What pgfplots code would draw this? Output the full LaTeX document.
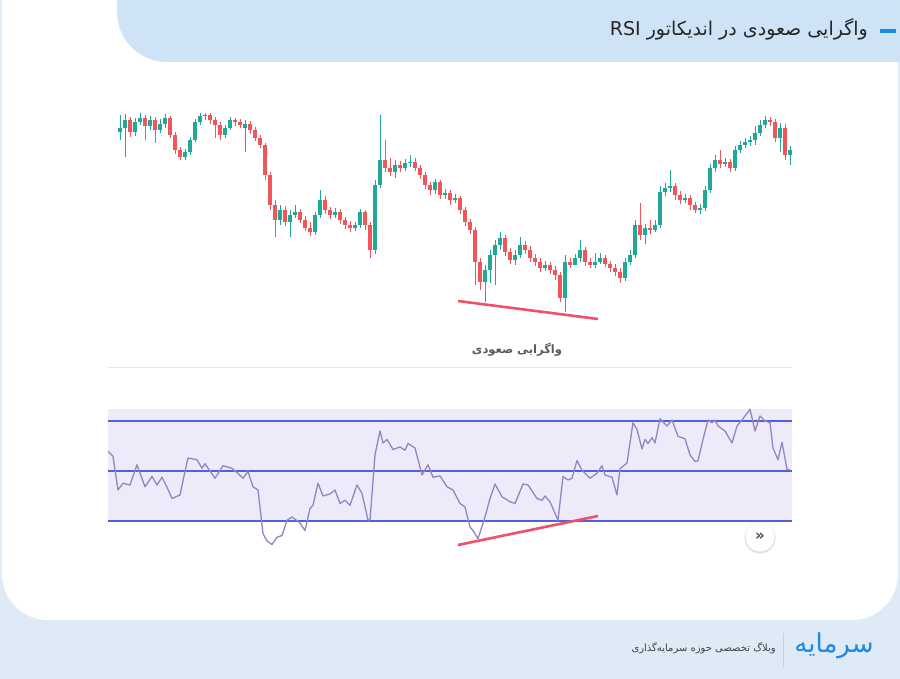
\documentclass[border=0pt]{standalone}
\usepackage{pgfplots}
\pgfplotsset{compat=1.18}
\usepackage{pgfplotstable}
\usepackage{fontspec}
\setmainfont{DejaVu Sans}
\newfontfamily\fa[Script=Arabic]{DejaVu Sans}
\TeXXeTstate=1
\definecolor{bgfoot}{HTML}{DEEBF7}
\definecolor{hdr}{HTML}{CFE3F6}
\definecolor{cgreen}{HTML}{22A896}
\definecolor{cred}{HTML}{F0555A}
\definecolor{band}{HTML}{4F62DD}
\definecolor{lav}{HTML}{EEEAF9}
\definecolor{rsic}{HTML}{8F86C2}
\definecolor{divred}{HTML}{F0506A}
\definecolor{logo}{HTML}{1E88E5}

% candles: x position, open, high, low, close (read in screen units, larger = lower price)
\pgfplotstableread{
x o h l c
120 132 115 140 128
125 128 114 157 120
130 120 117 137 132
135 132 118 136 122
140 122 113 125 118
145 118 115 140 126
150 126 116 130 120
155 120 117 143 130
160 130 119 133 124
165 124 114 128 118
170 118 116 138 135
175 135 132 154 150
180 150 147 160 157
185 157 149 160 152
190 152 137 155 140
195 140 119 142 122
200 122 113 125 116
205 116 113 120 115
210 115 113 124 120
215 120 117 138 125
220 125 122 140 135
225 135 125 138 128
230 128 117 130 120
235 120 118 126 122
240 122 119 128 125
245 128 120 152 124
250 124 121 134 130
255 130 127 141 138
260 138 135 148 145
265 145 143 180 175
270 175 172 210 205
275 205 200 237 220
280 220 205 225 210
285 210 206 226 222
290 222 210 237 215
295 215 205 218 212
300 212 209 223 220
305 220 216 231 228
310 228 222 236 232
315 232 212 235 215
320 215 190 218 200
325 200 196 214 210
330 210 207 219 215
335 215 208 218 212
340 212 209 224 220
345 220 217 229 225
350 225 221 232 228
355 228 222 231 225
360 225 209 228 212
365 212 210 230 225
370 225 222 258 250
375 250 180 254 185
380 185 115 188 160
385 160 140 172 168
390 168 158 176 172
395 172 160 178 165
400 165 161 172 168
405 168 159 171 163
410 163 155 167 162
415 162 158 171 168
420 168 165 179 175
425 175 172 189 185
430 185 182 195 190
435 190 179 194 182
440 182 180 199 195
445 195 189 199 193
450 193 190 205 200
455 200 194 203 198
460 198 196 214 210
465 210 207 226 222
470 222 219 234 230
475 230 227 285 262
480 262 258 290 282
485 282 265 302 270
490 270 250 283 255
495 255 240 285 245
500 245 232 250 238
505 238 235 256 252
510 252 248 264 260
515 260 250 265 255
520 255 237 258 245
525 245 241 254 250
530 250 246 262 258
535 258 254 266 262
540 262 258 272 268
545 268 261 271 265
550 265 262 274 270
555 270 266 280 275
560 275 272 302 298
565 298 255 312 262
570 262 258 268 265
575 265 254 262 258
580 258 240 262 250
585 250 247 266 262
590 262 258 268 265
595 265 253 268 262
600 262 253 264 258
605 258 255 267 264
610 264 261 272 268
615 268 264 276 272
620 272 268 283 278
625 278 258 281 262
630 262 250 265 255
635 255 220 258 225
640 225 203 240 235
645 235 224 244 228
650 228 220 234 230
655 230 220 232 225
660 225 186 228 192
665 192 183 196 188
670 188 170 192 186
675 186 183 200 195
680 195 191 204 200
685 200 194 203 198
690 198 195 210 205
695 205 202 213 210
700 210 204 214 208
705 208 186 211 190
710 190 164 193 168
715 168 155 172 160
720 160 150 168 164
725 164 158 167 162
730 162 159 172 168
735 168 146 171 150
740 150 141 153 145
745 145 138 148 142
750 142 136 146 140
755 140 126 145 133
760 133 120 136 125
765 125 116 128 120
770 120 117 126 122
775 122 119 142 138
780 138 123 152 128
785 128 124 160 155
790 155 146 165 150
}\candles

\pgfplotstableread{
x rsi
108 57.9
113 55.9
118 42.4
123 45.1
130 44.4
137 52.5
145 43.7
152 47.8
157 44.4
162 47.5
167 43.5
172 39.0
180 40.4
184 48.0
188 55.2
197 54.5
202 51.1
205 52.9
210 50.0
215 47.1
223 52.1
232 51.1
238 49.0
243 47.1
248 49.8
253 43.7
258 42.4
263 24.9
267 22.0
272 20.6
277 23.5
282 24.2
287 30.3
292 31.6
300 29.2
305 26.2
310 35.0
313 36.3
318 45.1
323 40.0
330 40.8
335 42.4
340 37.0
345 38.3
350 36.3
357 44.4
362 41.0
368 30.3
370 30.5
375 56.5
380 66.0
383 61.2
387 62.6
393 58.6
400 59.6
405 58.3
408 61.0
415 59.2
422 48.4
428 52.5
433 47.5
440 48.0
447 43.7
453 42.4
460 37.0
465 35.6
470 27.6
473 26.2
478 22.9
485 31.6
490 39.0
495 44.8
502 39.7
510 37.7
515 37.0
523 44.8
528 44.4
537 39.0
542 38.3
545 40.0
550 37.7
558 30.3
563 47.8
568 46.4
572 47.1
577 54.2
582 50.3
590 47.1
597 49.1
602 52.1
605 48.4
612 47.5
617 40.4
620 50.9
627 53.2
633 69.3
637 66.6
642 58.8
645 62.6
648 61.0
652 63.3
655 61.2
660 70.9
667 68.0
672 70.4
678 63.9
685 62.9
690 56.5
695 53.8
698 54.1
703 62.6
708 70.4
712 69.3
715 70.4
718 68.0
725 66.0
732 61.2
737 68.0
742 70.4
750 74.7
755 66.0
760 72.0
765 70.0
770 69.3
773 59.2
778 54.5
782 61.5
787 50.7
790 50.4
}\rsidata

\begin{document}
\begin{tikzpicture}[x=1pt,y=1pt]
\useasboundingbox (0,0) rectangle (900,679);
\clip (0,0) rectangle (900,679);
% background and card
\fill[bgfoot] (0,0) rectangle (900,679);
\fill[white, rounded corners=46pt] (2,59) rectangle (898,760);
\fill[hdr, rounded corners=50pt] (117,617) rectangle (980,760);
\draw[logo, line width=3.5pt] (880,648) -- (896,648);
\node[anchor=east, text=black!85, inner sep=0pt] at (868,650)
  {\fontsize{19}{22}\selectfont\fa\beginR واگرایی صعودی در اندیکاتور \beginL RSI\endL\endR};
% separator
\draw[black!10, line width=0.8pt] (108,312) -- (792,312);
\node[text=black!65, inner sep=0pt] at (517,329)
  {\fontsize{11.5}{13}\selectfont\fa\bfseries\beginR واگرایی صعودی\endR};

% price panel
\begin{axis}[at={(108pt,349pt)}, anchor=south west, scale only axis,
  width=684pt, height=217pt, xmin=108, xmax=792, ymin=113, ymax=330,
  y dir=reverse, axis lines=none, clip=true]
  % wicks
  \addplot[draw=none, no markers, forget plot, error bars/.cd, y dir=both, y explicit, error mark=none,
    error bar style={draw=cgreen, line width=0.9pt, solid}]
    table[x=x, y expr={\thisrow{c}<\thisrow{o} ? (\thisrow{h}+\thisrow{l})/2 : nan},
      y error expr={(\thisrow{l}-\thisrow{h})/2}] {\candles};
  \addplot[draw=none, no markers, forget plot, error bars/.cd, y dir=both, y explicit, error mark=none,
    error bar style={draw=cred, line width=0.9pt, solid}]
    table[x=x, y expr={\thisrow{c}<\thisrow{o} ? nan : (\thisrow{h}+\thisrow{l})/2},
      y error expr={(\thisrow{l}-\thisrow{h})/2}] {\candles};
  % bodies
  \addplot[draw=none, no markers, forget plot, error bars/.cd, y dir=both, y explicit, error mark=none,
    error bar style={draw=cgreen, line width=3.4pt, solid}]
    table[x=x, y expr={\thisrow{c}<\thisrow{o} ? (\thisrow{o}+\thisrow{c})/2 : nan},
      y error expr={max(abs(\thisrow{o}-\thisrow{c})/2,0.8)}] {\candles};
  \addplot[draw=none, no markers, forget plot, error bars/.cd, y dir=both, y explicit, error mark=none,
    error bar style={draw=cred, line width=3.4pt, solid}]
    table[x=x, y expr={\thisrow{c}<\thisrow{o} ? nan : (\thisrow{o}+\thisrow{c})/2},
      y error expr={max(abs(\thisrow{o}-\thisrow{c})/2,0.8)}] {\candles};
  % divergence line
  \addplot[divred, line width=2.6pt] coordinates {(458,301) (598,319)};
\end{axis}

% RSI panel
\begin{axis}[at={(108pt,124pt)}, anchor=south west, scale only axis,
  width=684pt, height=155pt, xmin=108, xmax=792, ymin=16.4, ymax=78.4,
  axis lines=none, clip=true]
  \addplot[fill=lav, draw=none] coordinates {(108,30) (108,74.8) (792,74.8) (792,30)} -- cycle;
  \addplot[band, line width=1.7pt] coordinates {(108,70) (792,70)};
  \addplot[band, line width=1.7pt] coordinates {(108,50) (792,50)};
  \addplot[band, line width=1.7pt] coordinates {(108,30) (792,30)};
  \addplot[rsic, line width=1.3pt, line join=round] table[x=x, y=rsi] {\rsidata};
  \addplot[divred, line width=2.6pt] coordinates {(458,20.4) (598,32.0)};
\end{axis}

% scroll button
\fill[black!12] (760,141) circle (15.5pt);
\fill[white] (760,142) circle (14.5pt);
\node[text=black!70] at (760,142) {\fontsize{15}{15}\selectfont\bfseries »};

% footer
\draw[logo!35, line width=1pt] (783,12) -- (783,46);
\node[anchor=east, text=black!75, inner sep=0pt] at (776,31)
  {\fontsize{10}{12}\selectfont\fa\beginR وبلاگ تخصصی حوزه سرمایه‌گذاری\endR};
\node[text=logo, inner sep=0pt] at (834,33)
  {\fontsize{26}{28}\selectfont\fa\beginR سرمایه\endR};
\end{tikzpicture}
\end{document}
